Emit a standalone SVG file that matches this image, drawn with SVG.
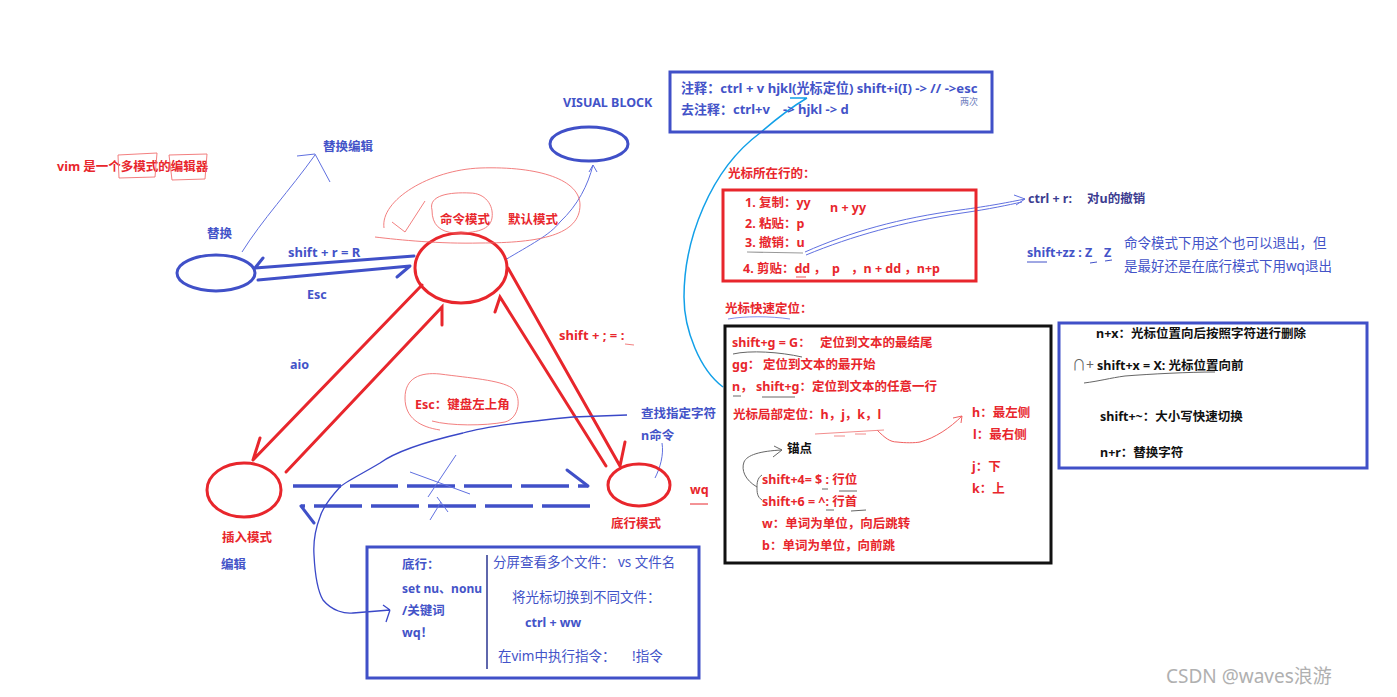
<svg xmlns="http://www.w3.org/2000/svg" width="1397" height="697" viewBox="0 0 1397 697">
<style>
text{font-family:"Noto Sans","Noto Sans CJK SC",sans-serif;font-weight:bold;font-size:12.5px}
.r{fill:#e8262c}
.b{fill:#4353c8}
.k{fill:#111}
.n{font-weight:normal}
.big{font-size:13.5px}
.rs{fill:none;stroke:#e8262c;stroke-width:3;stroke-linecap:round}
.bs{fill:none;stroke:#4050c8;stroke-width:3;stroke-linecap:round}
.bd{fill:none;stroke:#4050c8;stroke-width:3.5;stroke-dasharray:48 9}
.thinb{fill:none;stroke:#6070e0;stroke-width:1}
.thinr{fill:none;stroke:#f07070;stroke-width:0.9}
.cyan{fill:none;stroke:#12a0e8;stroke-width:1.5}
.gray{fill:none;stroke:#666;stroke-width:1}
</style>
<rect width="1397" height="697" fill="#fff"/>

<g id="connectors">
  <path class="bs" d="M414,256 L255,268 M255,268 L263,258"/>
  <path class="bs" d="M258,280 L410,266 M410,266 L397,277"/>
  <path class="rs" d="M422,285 L253,460 M253,460 L260,438"/>
  <path class="rs" d="M286,472 L442,307 L442,325"/>
  <path class="rs" d="M508,268 L620,466 L625,442"/>
  <path class="rs" d="M606,466 L500,297 L495,312"/>
  <path class="bd" d="M293,486 L588,486"/>
  <path class="bs" d="M588,486 L567,470"/>
  <path class="bd" d="M590,506 L301,506"/>
  <path class="bs" d="M301,506 L314,523"/>
  <path class="thinb" d="M410,472 L470,494 M456,455 L428,497 M437,497 L448,512 M441,502 L430,520"/>
  <path fill="none" stroke="#3a48c8" stroke-width="1.3" d="M627,415 L573,417 C520,422 480,428 463,433 C420,443 395,452 380,463 C360,475 345,482 340,487 C330,498 322,510 320,517 C315,530 313,540 314,555 C315,575 317,590 323,600 C332,611 345,614 353,613 L390,610 M390,610 L383,605 M390,610 L386,622"/>
  <path class="cyan" d="M723,387 C700,370 684,330 684,297 C684,240 710,170 760,133 C775,120 795,105 807,98 M807,98 L790,98 M807,98 L798,104"/>
  <path class="thinb" d="M242,252 C262,220 290,190 315,155 M297,156 L315,154 L330,182"/>
  <path class="thinb" d="M505,260 C530,245 550,235 560,222 C578,205 588,185 593,165 M593,165 L589,172 M593,165 L597,172"/>
  <path class="thinb" d="M805,252 C850,232 900,218 960,210 C990,206 1010,202 1025,199 M806,255 C852,236 902,222 962,213 C990,209 1008,205 1022,202 M1025,199 L1014,195 M1025,199 L1016,205"/>
  <path class="thinb" d="M662,443 C664,455 660,468 655,478"/>
  <path fill="none" stroke="#f06060" stroke-width="1" d="M877,430 C885,438 890,442 897,442 C905,443 915,443 920,442 C935,438 950,428 962,416 M962,416 L953,418 M962,416 L961,423"/>
  <path class="gray" d="M757,487 C745,480 741,470 744,462 C747,455 760,451 782,450 M782,450 L774,446 M782,450 L773,457"/>
</g>

<g id="replace">
  <ellipse cx="216" cy="273" rx="39" ry="18" fill="none" stroke="#4050c8" stroke-width="3"/>
  <text class="b" x="207" y="238">替换</text>
  <text class="b" x="323" y="151">替换编辑</text>
  <text class="b" x="288" y="257" style="font-size:13px">shift + r = R</text>
  <text class="b" x="307" y="299">Esc</text>
</g>

<g id="title">
  <text class="r" x="57" y="171">vim 是一个多模式的编辑器</text>
  <path class="thinr" d="M118,155 L157,153 L155,177 L119,178 Z M169,155 L207,154 L205,179 L172,180 Z"/>
</g>

<g id="command">
  <ellipse cx="461" cy="268" rx="46" ry="35" fill="none" stroke="#e8262c" stroke-width="3"/>
  <path class="thinr" d="M384,228 C380,200 430,170 480,168 C540,166 580,180 580,205 C580,235 540,243 480,243 C440,244 400,240 375,237"/>
  <path class="thinr" d="M432,210 C428,195 450,192 470,193 C485,193 494,205 492,218 C490,232 470,233 455,233 C440,232 432,225 432,210"/>
  <path class="thinr" d="M392,222 L405,232 L425,201"/>
  <text class="r" x="440" y="224">命令模式</text>
  <text class="r" x="508" y="224">默认模式</text>
</g>

<g id="visual">
  <ellipse cx="589" cy="144" rx="39" ry="17" fill="none" stroke="#4050c8" stroke-width="3"/>
  <text class="b" x="563" y="107">VISUAL BLOCK</text>
</g>

<g id="insert">
  <ellipse cx="244" cy="490" rx="37" ry="27" fill="none" stroke="#e8262c" stroke-width="3"/>
  <text class="r" x="222" y="542">插入模式</text>
  <text class="b" x="221" y="569">编辑</text>
  <text class="b" x="290" y="369">aio</text>
</g>

<g id="bottomline">
  <ellipse cx="639" cy="485" rx="31" ry="21" fill="none" stroke="#e8262c" stroke-width="3"/>
  <text class="r" x="611" y="528">底行模式</text>
  <text class="r" x="559" y="340" style="font-size:13px">shift + ; = :</text>
  <path class="thinr" d="M625,344 L634,345"/>
  <text class="b" x="641" y="418">查找指定字符</text>
  <text class="b" x="641" y="440">n命令</text>
  <text class="r" x="690" y="494">wq</text>
  <path stroke="#e8262c" stroke-width="1" d="M690,504 L708,504"/>
</g>

<g id="esc-note">
  <path class="thinr" d="M440,430 C420,427 405,418 405,398 C405,378 420,372 440,374 C470,378 500,380 512,388 C522,396 520,418 505,422 C485,426 450,426 432,421"/>
  <text class="r" x="415" y="409">Esc：键盘左上角</text>
</g>

<g id="comment-box">
  <rect x="670" y="72" width="322" height="60" fill="none" stroke="#4050c8" stroke-width="3"/>
  <text class="b" x="681" y="93" style="font-size:13.1px">注释：ctrl + v hjkl(光标定位) shift+i(I) -&gt; // -&gt;esc</text>
  <text class="b n" x="960" y="105" style="font-size:9px;fill:#7080c0">两次</text>
  <text class="b" x="681" y="114" style="font-size:13px">去注释：ctrl+v</text>
  <text class="b" x="783" y="114" style="font-size:13px">-&gt; hjkl -&gt; d</text>
</g>

<g id="line-ops">
  <text class="r" x="728" y="178">光标所在行的：</text>
  <rect x="723" y="190" width="253" height="91" fill="none" stroke="#e8262c" stroke-width="3"/>
  <text class="r" x="745" y="207">1. 复制：yy</text>
  <text class="r" x="830" y="212">n + yy</text>
  <text class="r" x="745" y="228">2. 粘贴：p</text>
  <text class="r" x="745" y="247">3. 撤销：u</text>
  <path fill="none" stroke="#999" stroke-width="1.2" d="M747,252 L803,253"/>
  <text class="r" x="743" y="273">4. 剪贴：dd ，</text>
  <text class="r" x="832" y="273">p</text>
  <text class="r" x="851" y="273">，n + dd ，n+p</text>
  <path fill="none" stroke="#e8262c" stroke-width="0.8" d="M796,277 L806,277"/>
</g>

<g id="redo">
  <text x="1028" y="203" style="fill:#3c3c90">ctrl + r:</text>
  <text x="1087" y="203" style="fill:#3c3c90">对u的撤销</text>
  <text class="b" x="1027" y="257">shift+zz : Z</text>
  <text class="b" x="1104" y="257">Z</text>
  <path fill="none" stroke="#4050c8" stroke-width="1" d="M1027,262 L1047,262 M1090,263 L1097,262 M1105,261 L1112,260"/>
  <text class="b n" x="1124" y="248" style="font-size:13.5px">命令模式下用这个也可以退出，但</text>
  <text class="b n" x="1124" y="271" style="font-size:13.5px">是最好还是在底行模式下用wq退出</text>
</g>

<g id="fast-move">
  <text class="r" x="725" y="313">光标快速定位：</text>
  <path fill="none" stroke="#6070e0" stroke-width="0.8" d="M728,319 C745,316 770,316 790,319"/>
  <rect x="725" y="326" width="326" height="237" fill="none" stroke="#111" stroke-width="3"/>
  <text class="r" x="732" y="347">shift+g = G：</text>
  <text class="r" x="820" y="347">定位到文本的最结尾</text>
  <path class="gray" d="M733,354 C750,350 780,352 802,357"/>
  <text class="r" x="732" y="369">gg：</text>
  <text class="r" x="763" y="369">定位到文本的最开始</text>
  <text class="r" x="732" y="391">n，</text>
  <text class="r" x="756" y="391">shift+g：定位到文本的任意一行</text>
  <path class="gray" d="M733,396 L741,396 M762,397 L795,397"/>
  <text class="r" x="733" y="419">光标局部定位：h，j，k，l</text>
  <path fill="none" stroke="#f08080" stroke-width="0.9" d="M815,434 L884,430 M834,436 L845,436 M855,434 L866,434"/>
  <text class="k" x="787" y="453">锚点</text>
  <path class="gray" d="M762,475 C757,478 757,484 757,487 C757,492 757,497 762,500"/>
  <text class="r" x="762" y="484">shift+4= $ : 行位</text>
  <text class="r" x="762" y="506">shift+6 = ^: 行首</text>
  <path class="gray" d="M822,489 L828,489 M839,491 L857,491 M826,510 L834,510 M851,511 L866,510"/>
  <text class="r" x="762" y="528">w：单词为单位，向后跳转</text>
  <text class="r" x="762" y="550">b：单词为单位，向前跳</text>
  <text class="r" x="972" y="417">h：最左侧</text>
  <text class="r" x="973" y="439">l：最右侧</text>
  <text class="r" x="972" y="471">j：下</text>
  <text class="r" x="972" y="493">k：上</text>
</g>

<g id="edit-box">
  <rect x="1059" y="323" width="308" height="145" fill="none" stroke="#4050c8" stroke-width="3"/>
  <text class="k" x="1096" y="338">n+x：光标位置向后按照字符进行删除</text>
  <text class="k n" x="1072" y="370" style="fill:#666;font-size:14px">∩+</text>
  <text class="k" x="1097" y="370">shift+x = X: 光标位置向前</text>
  <path class="gray" d="M1084,383 C1100,381 1110,378 1125,376 C1150,374 1190,372 1215,372"/>
  <text class="k" x="1100" y="421">shift+~：大小写快速切换</text>
  <text class="k" x="1100" y="457">n+r：替换字符</text>
</g>

<g id="bottom-box">
  <rect x="367" y="547" width="332" height="131" fill="none" stroke="#4050c8" stroke-width="3"/>
  <path fill="none" stroke="#2a3590" stroke-width="1.5" d="M487,555 L487,669"/>
  <text class="b" x="402" y="569">底行：</text>
  <text class="b" x="402" y="593" style="font-size:12px">set nu、nonu</text>
  <text class="b" x="402" y="615">/关键词</text>
  <text class="b" x="402" y="637">wq！</text>
  <text class="b n big" x="493" y="567">分屏查看多个文件：</text>
  <text class="b n big" x="618" y="567">vs 文件名</text>
  <text class="b n big" x="512" y="602">将光标切换到不同文件：</text>
  <text class="b" x="525" y="627">ctrl + ww</text>
  <text class="b n big" x="498" y="661">在vim中执行指令：</text>
  <text class="b n big" x="632" y="661">!指令</text>
</g>

<text x="1166" y="683" style="font-weight:normal;font-size:19px;fill:#b0b0b0">CSDN @waves浪游</text>
</svg>
